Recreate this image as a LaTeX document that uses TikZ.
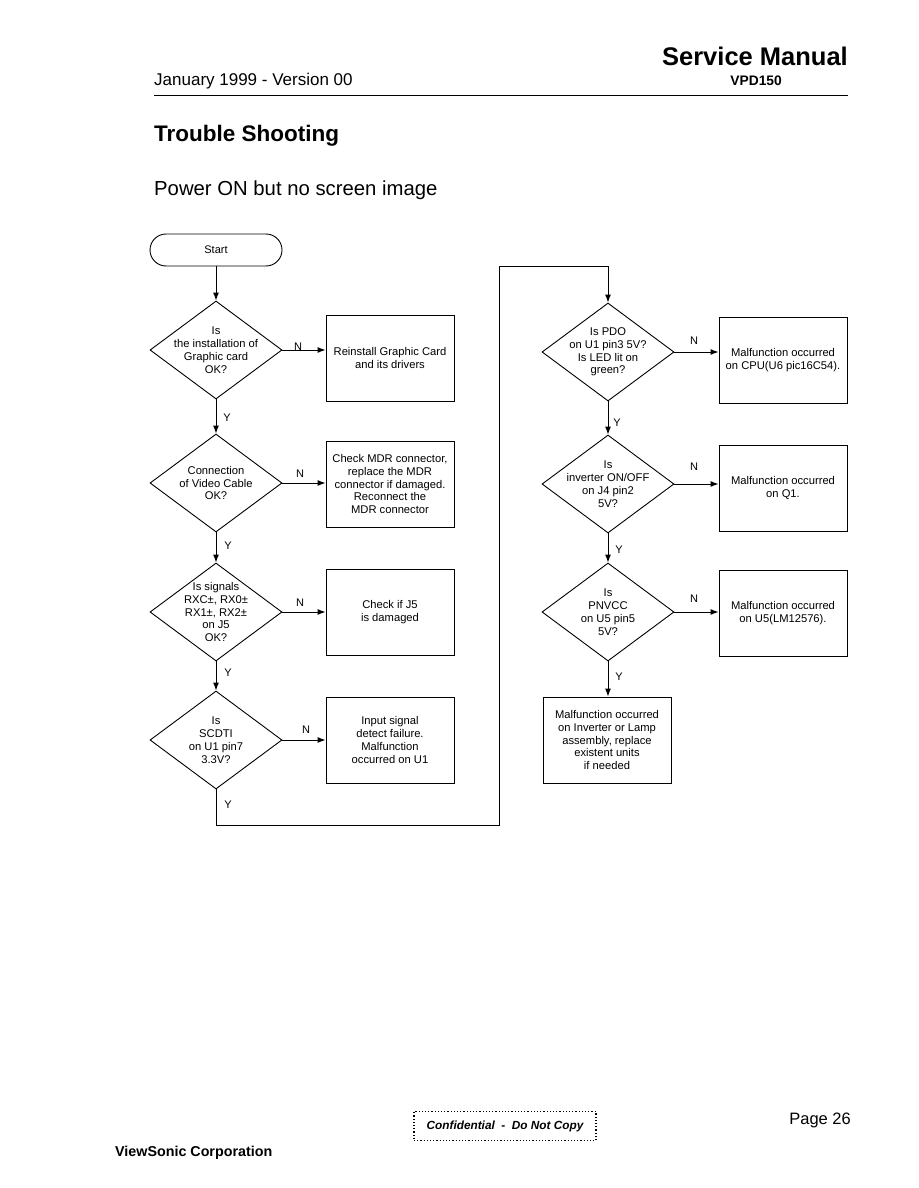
\documentclass[tikz,border=0pt]{standalone}
\usepackage{fontspec}
\setmainfont{Liberation Sans}
\usetikzlibrary{shapes.geometric,arrows.meta}
\begin{document}
\begin{tikzpicture}[x=1pt,y=-1pt,
  dec/.style={shape=diamond,draw,line width=0.9pt,inner sep=0pt,minimum width=132pt,minimum height=98pt},
  dtext/.style={font=\fontsize{11.2}{12.8}\selectfont,align=center,inner sep=0pt},
  box/.style={draw,line width=0.9pt,minimum width=128pt,minimum height=86pt,inner sep=2pt,align=center,font=\fontsize{11.2}{12.8}\selectfont},
  arr/.style={line width=1pt,-{Latex[length=8pt,width=6pt]}},
  ln/.style={line width=1pt},
  lab/.style={font=\fontsize{11}{12}\selectfont,inner sep=0pt}]
\useasboundingbox (0,0) rectangle (918,1188);
% header
\node[anchor=base east,inner sep=0pt,font=\fontsize{25.5}{28}\bfseries] (sm) at (848,66) {Service Manual};
\node[anchor=base west,inner sep=0pt,font=\fontsize{17}{20}\selectfont] (jan) at (154,86) {January 1999 - Version 00};
\node[anchor=base east,inner sep=0pt,font=\fontsize{13.8}{16}\bfseries] (vpd) at (782,86) {VPD150};
\draw[line width=1pt] (154,96) -- (848,96);
\node[anchor=base west,inner sep=0pt,font=\fontsize{22.5}{26}\bfseries] (ts) at (154,142) {Trouble Shooting};
\node[anchor=base west,inner sep=0pt,font=\fontsize{20.3}{24}\selectfont] (pw) at (154,195) {Power ON but no screen image};
% start
\node[draw,line width=0.9pt,rounded corners=16pt,minimum width=132pt,minimum height=32pt,font=\fontsize{11}{12}\selectfont] (start) at (216,250) {Start};
% left column
\node[dec,label={[dtext]center:Is\\the installation of\\Graphic card\\OK?}] (d1) at (216,350) {};
\node[box] (b1) at (390,358) {Reinstall Graphic Card\\and its drivers};
\node[dec,label={[dtext]center:Connection\\of Video Cable\\OK?}] (d2) at (216,483) {};
\node[box] (b2) at (390,484) {Check MDR connector,\\replace the MDR\\connector if damaged.\\Reconnect the\\MDR connector};
\node[dec,label={[dtext]center:Is signals\\RXC\textpm, RX0\textpm\\RX1\textpm, RX2\textpm\\on J5\\OK?}] (d3) at (216,612) {};
\node[box] (b3) at (390,612) {Check if J5\\is damaged};
\node[dec,label={[dtext]center:Is\\SCDTI\\on U1 pin7\\3.3V?}] (d4) at (216,740) {};
\node[box] (b4) at (390,740) {Input signal\\detect failure.\\Malfunction\\occurred on U1};
% right column
\node[dec,label={[dtext]center:Is PDO\\on U1 pin3 5V?\\Is LED lit on\\green?}] (d5) at (608,352) {};
\node[box] (b5) at (783,360) {Malfunction occurred\\on CPU(U6 pic16C54).};
\node[dec,label={[dtext]center:Is\\inverter ON/OFF\\on J4 pin2\\5V?}] (d6) at (608,484) {};
\node[box] (b6) at (783,488) {Malfunction occurred\\on Q1.};
\node[dec,label={[dtext]center:Is\\PNVCC\\on U5 pin5\\5V?}] (d7) at (608,612) {};
\node[box] (b7) at (783,613) {Malfunction occurred\\on U5(LM12576).};
\node[box] (b8) at (607,740) {Malfunction occurred\\on Inverter or Lamp\\assembly, replace\\existent units\\if needed};
% connectors
\draw[arr] (start.south) -- (d1.north);
\draw[arr] (d1.south) -- (d2.north);
\draw[arr] (d2.south) -- (d3.north);
\draw[arr] (d3.south) -- (d4.north);
\draw[arr] (d1.east) -- (d1.east -| b1.west);
\draw[arr] (d2.east) -- (d2.east -| b2.west);
\draw[arr] (d3.east) -- (d3.east -| b3.west);
\draw[arr] (d4.east) -- (d4.east -| b4.west);
\coordinate (c1) at (216,825);
\coordinate (c2) at (499,825);
\coordinate (c3) at (499,266);
\coordinate (c4) at (608,266);
\draw[ln] (d4.south) -- (c1) -- (c2) -- (c3) -- (c4);
\draw[arr] (c4) -- (d5.north);
\draw[arr] (d5.south) -- (d6.north);
\draw[arr] (d6.south) -- (d7.north);
\draw[arr] (d7.south) -- (d7.south |- b8.north);
\draw[arr] (d5.east) -- (d5.east -| b5.west);
\draw[arr] (d6.east) -- (d6.east -| b6.west);
\draw[arr] (d7.east) -- (d7.east -| b7.west);
% labels
\node[lab] (n1) at (298,347) {N};
\node[lab] (n2) at (300,474) {N};
\node[lab] (n3) at (300,603) {N};
\node[lab] (n4) at (306,730) {N};
\node[lab] (n5) at (694,341) {N};
\node[lab] (n6) at (694,467) {N};
\node[lab] (n7) at (694,599) {N};
\node[lab] (y1) at (227,418) {Y};
\node[lab] (y2) at (228,546) {Y};
\node[lab] (y3) at (228,673) {Y};
\node[lab] (y4) at (228,805) {Y};
\node[lab] (y5) at (617,423) {Y};
\node[lab] (y6) at (619,550) {Y};
\node[lab] (y7) at (619,677) {Y};
% footer
\node[draw,dotted,line width=1.2pt,minimum width=182pt,minimum height=29pt,font=\fontsize{11.8}{13}\bfseries\itshape] (conf) at (505,1126) {Confidential \ - \ Do Not Copy};
\node[anchor=base east,inner sep=0pt,font=\fontsize{16.5}{19}\selectfont] (pg) at (851,1124) {Page 26};
\node[anchor=base west,inner sep=0pt,font=\fontsize{14.3}{16}\bfseries] (vs) at (115,1156) {ViewSonic Corporation};
\end{tikzpicture}
\end{document}
